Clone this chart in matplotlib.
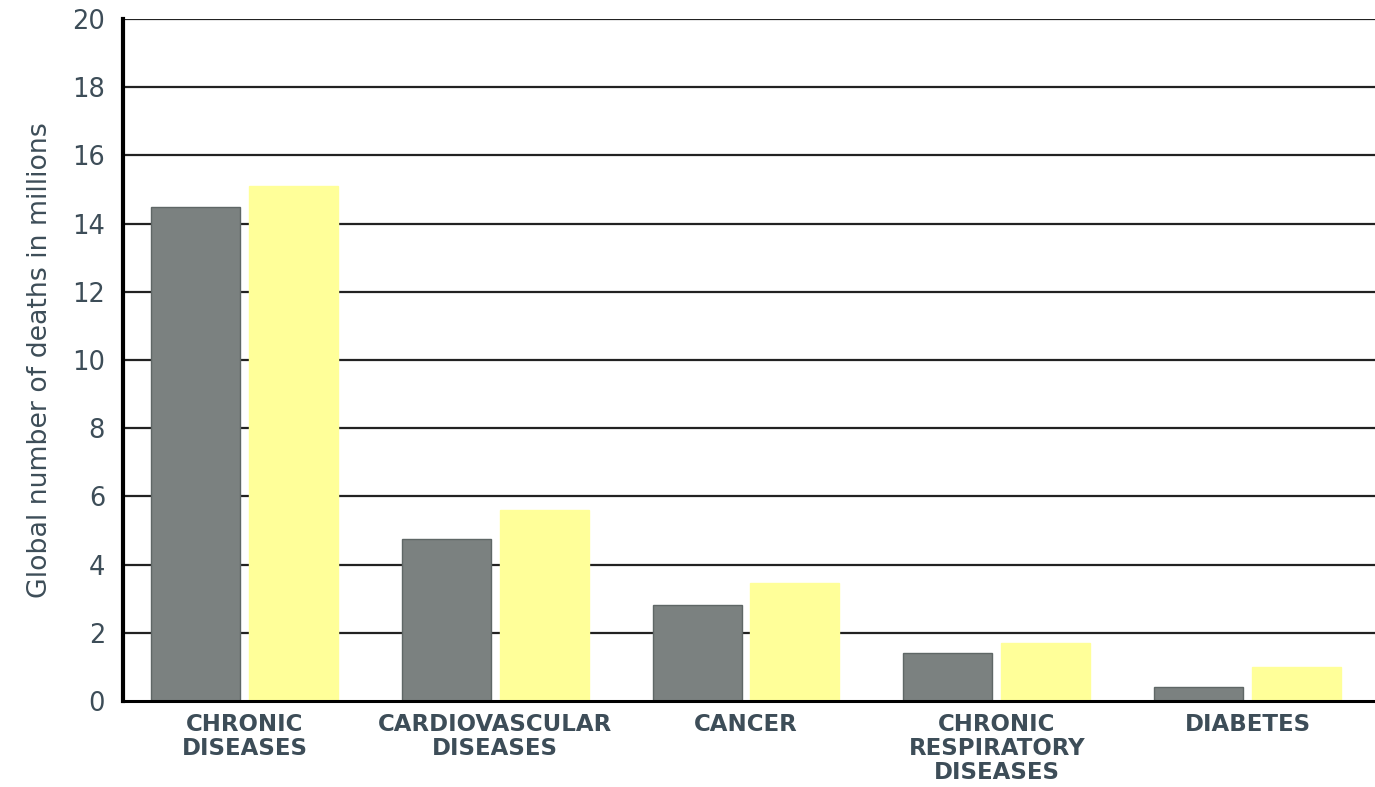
import numpy as np
import matplotlib.pyplot as plt

# valores (milhoes de mortes)
categorias = ['CHRONIC\nDISEASES', 'CARDIOVASCULAR\nDISEASES', 'CANCER',
              'CHRONIC\nRESPIRATORY\nDISEASES', 'DIABETES']
serie_cinza = [14.5, 4.75, 2.8, 1.4, 0.4]
serie_amarela = [15.1, 5.6, 3.45, 1.7, 1.0]
yticks = [0, 2, 4, 6, 8, 10, 12, 14, 16, 18, 20]

cor_texto = '#3d4d58'

fig = plt.figure(figsize=(13.75, 7.87), dpi=100)
ax = fig.add_axes([0.0895, 0.1093, 0.9105, 0.8666])

x = np.arange(len(categorias))
largura = 0.355
ax.bar(x - 0.195, serie_cinza, width=largura, color='#7b8180',
       edgecolor='#5f6766', linewidth=1, zorder=3)
ax.bar(x + 0.195, serie_amarela, width=largura, color='#ffff99',
       edgecolor='#ffff99', linewidth=1, zorder=3)

ax.set_xlim(-0.4845, 4.508)
ax.set_ylim(0, 20)
ax.set_yticks(yticks)
ax.set_yticklabels([str(v) for v in yticks], fontsize=18.5, color=cor_texto)
ax.set_xticks(x)
ax.set_xticklabels(categorias, fontsize=16.5, fontweight='bold',
                   color=cor_texto, linespacing=1.05)
ax.tick_params(axis='y', length=0, pad=13)
ax.tick_params(axis='x', length=0, pad=9)

ax.set_ylabel('Global number of deaths in millions', fontsize=19.3,
              color=cor_texto, labelpad=14)

for v in yticks[1:]:
    ax.axhline(v, color='#222222', linewidth=1.6, zorder=1)

for s in ['top', 'right']:
    ax.spines[s].set_visible(False)
ax.spines['left'].set_linewidth(3)
ax.spines['left'].set_zorder(4)
ax.spines['bottom'].set_linewidth(2.2)
ax.spines['bottom'].set_zorder(4)

fig.savefig('out.png', dpi=100)
